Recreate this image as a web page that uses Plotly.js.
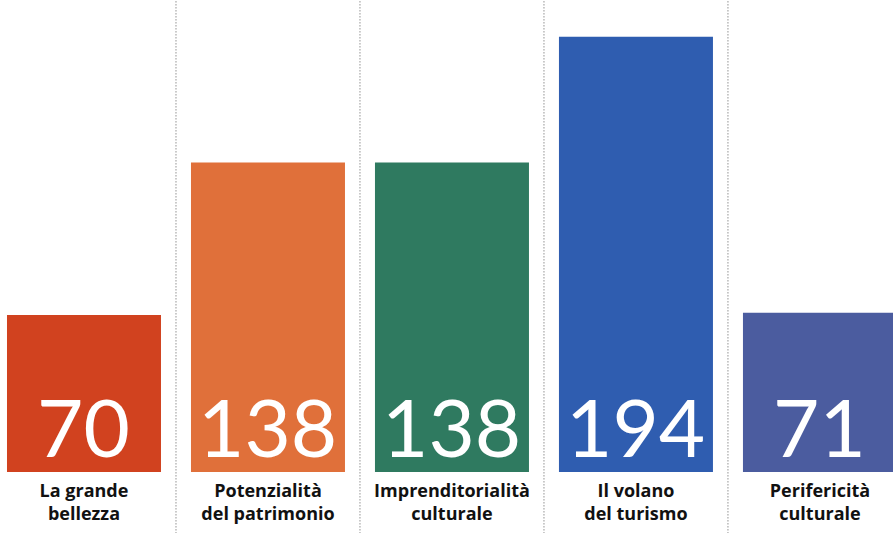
<!DOCTYPE html>
<html>
<head>
<meta charset="utf-8">
<script src="https://cdn.plot.ly/plotly-3.0.1.min.js"></script>
<style>html,body{margin:0;padding:0;background:#fff;}#chart{width:893px;height:533px;}</style>
</head>
<body>
<div id="chart"></div>
<script>
const categories = ["La grande<br>bellezza", "Potenzialità<br>del patrimonio", "Imprenditorialità<br>culturale", "Il volano<br>del turismo", "Perifericità<br>culturale"];
const values = [70, 138, 138, 194, 71];
const barColors = ["#d1421f", "#e0703a", "#2f7a60", "#2f5db0", "#4b5c9f"];

const idx = categories.map((c, i) => i);

const trace = {
  type: "bar",
  x: idx,
  y: values,
  marker: {color: barColors, line: {width: 0}},
  hoverinfo: "skip"
};

const annotations = values.map((v, i) => ({
  x: i, y: 0, xref: "x", yref: "y",
  text: String(v),
  showarrow: false,
  yanchor: "bottom",
  yshift: -4,
  font: {family: "Lato, 'Open Sans', sans-serif", size: 80, color: "#ffffff", weight: 400}
}));

const shapes = [];
for (let i = 0; i < values.length - 1; i++) {
  shapes.push({
    type: "line", xref: "x", yref: "paper",
    x0: i + 0.5, x1: i + 0.5, y0: -0.13, y1: 1,
    line: {color: "#5a5a5a", width: 1, dash: "1px,2px"}
  });
}

const layout = {
  width: 893, height: 533,
  margin: {l: 0, r: 0, t: 0, b: 61},
  paper_bgcolor: "#ffffff",
  plot_bgcolor: "#ffffff",
  bargap: 0.163,
  showlegend: false,
  xaxis: {
    range: [-0.4565, 4.397],
    tickmode: "array",
    tickvals: idx,
    ticktext: categories,
    showgrid: false, zeroline: false, showline: false, ticks: "",
    ticklabelstandoff: 6,
    tickfont: {family: "'Open Sans', 'Liberation Sans', sans-serif", size: 18, color: "#111111", weight: 700},
    fixedrange: true
  },
  yaxis: {
    range: [0, 210.4],
    visible: false,
    fixedrange: true
  },
  shapes: shapes,
  annotations: annotations
};

Plotly.newPlot("chart", [trace], layout, {displayModeBar: false, staticPlot: true});
</script>
</body>
</html>
